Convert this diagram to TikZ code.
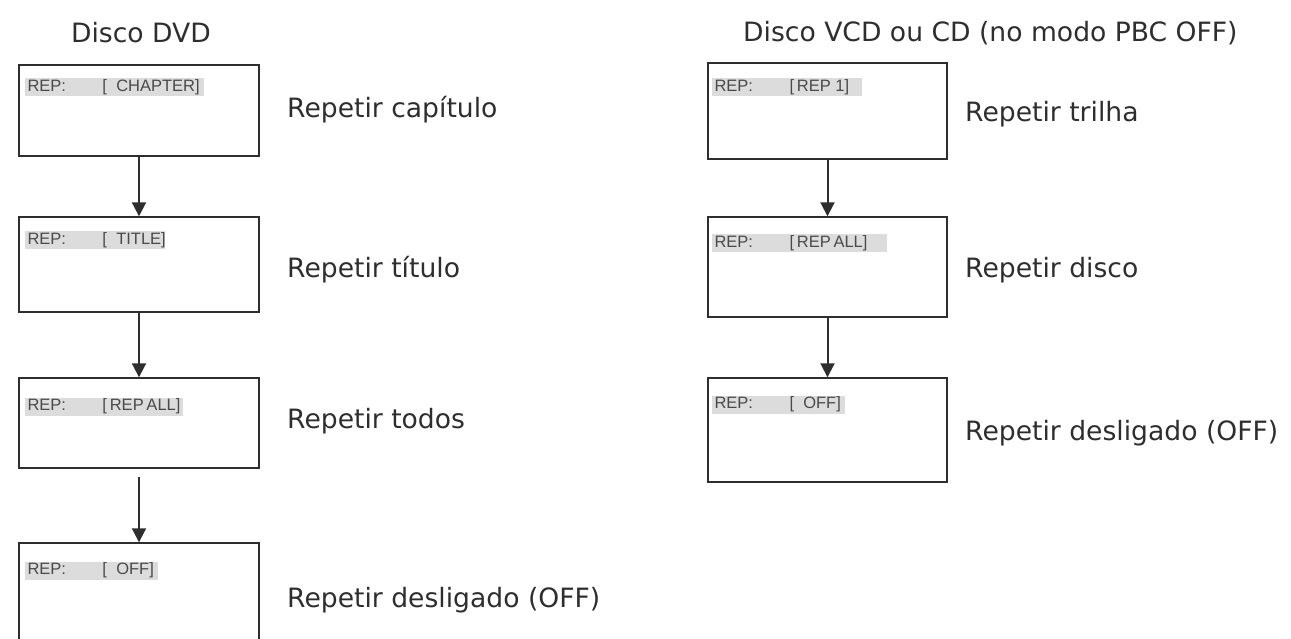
\documentclass[tikz,border=0pt]{standalone}
\usepackage{fontspec}
\setmainfont{DejaVu Sans}
\newfontfamily\scrfont{Liberation Sans}
\usetikzlibrary{arrows.meta}
\definecolor{ink}{HTML}{2E2E2E}
\definecolor{barg}{HTML}{DCDCDC}
\definecolor{scrtext}{HTML}{4A4A4A}
\tikzset{
  screen/.style={draw=ink, line width=1.4pt, fill=white, inner sep=0pt},
  bartext/.style={fill=barg, anchor=north west, inner sep=0pt, minimum height=18pt,
    font=\scrfont\fontsize{16.5}{18}\selectfont, text=scrtext},
  lbl/.style={anchor=west, font=\fontsize{26.6}{30}\selectfont, text=ink, inner sep=0pt},
  ttl/.style={font=\fontsize{26.6}{30}\selectfont, text=ink, inner sep=0pt},
  flow/.style={draw=ink, line width=2pt, -{Triangle[width=14pt,length=14pt]}}
}
\newcommand{\scrline}[3]{\makebox[#1pt][l]{\hspace{3pt}\makebox[75pt][l]{REP:}#2}}
\begin{document}
\begin{tikzpicture}[x=1pt,y=-1pt]
\useasboundingbox (0,0) rectangle (1291,639);
% titles
\node[ttl] (t1) at (141,33) {Disco DVD};
\node[ttl,anchor=west] (t2) at (743,33) {Disco VCD ou CD (no modo PBC OFF)};
% left column
\node[screen, minimum width=240pt, minimum height=91pt] (d1) at (139,110.5) {};
\node[screen, minimum width=240pt, minimum height=95pt] (d2) at (139,264.5) {};
\node[screen, minimum width=240pt, minimum height=90pt] (d3) at (139,423) {};
\node[screen, minimum width=240pt, minimum height=100pt] (d4) at (139,593) {};
\node[bartext] (d1b) at ([xshift=6pt,yshift=-14pt]d1.north west) {\scrline{179}{[\ \ CHAPTER]}{}};
\node[bartext] (d2b) at ([xshift=6pt,yshift=-15pt]d2.north west) {\scrline{140}{[\ \ TITLE]}{}};
\node[bartext] (d3b) at ([xshift=6pt,yshift=-20pt]d3.north west) {\scrline{158}{[\,REP\,ALL]}{}};
\node[bartext] (d4b) at ([xshift=6pt,yshift=-19pt]d4.north west) {\scrline{133}{[\ \ OFF]}{}};
\node[lbl] (l1) at (287,110) {Repetir capítulo};
\node[lbl] (l2) at (287,270) {Repetir título};
\node[lbl] (l3) at (287,421) {Repetir todos};
\node[lbl] (l4) at (287,600) {Repetir desligado (OFF)};
\draw[flow] (d1.south) -- (d2.north);
\draw[flow] (d2.south) -- (d3.north);
\draw[flow] ([yshift=-8pt]d3.south) -- (d4.north);
% right column
\node[screen, minimum width=239pt, minimum height=96pt] (v1) at (827.5,111) {};
\node[screen, minimum width=239pt, minimum height=100pt] (v2) at (827.5,267) {};
\node[screen, minimum width=239pt, minimum height=104pt] (v3) at (827.5,430) {};
\node[bartext] (v1b) at ([xshift=4pt,yshift=-16pt]v1.north west) {\scrline{150}{[\,REP 1]}{}};
\node[bartext] (v2b) at ([xshift=4pt,yshift=-18pt]v2.north west) {\scrline{175}{[\,REP\,ALL]}{}};
\node[bartext] (v3b) at ([xshift=4pt,yshift=-18pt]v3.north west) {\scrline{133}{[\ \ OFF]}{}};
\node[lbl] (r1) at (965,114) {Repetir trilha};
\node[lbl] (r2) at (965,270) {Repetir disco};
\node[lbl] (r3) at (965,433) {Repetir desligado (OFF)};
\draw[flow] (v1.south) -- (v2.north);
\draw[flow] (v2.south) -- (v3.north);
\end{tikzpicture}
\end{document}
